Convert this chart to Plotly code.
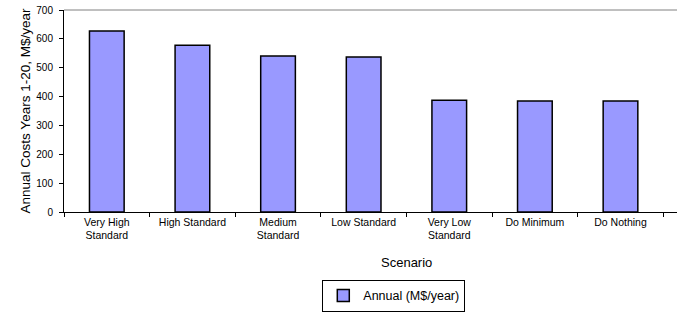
import plotly.graph_objects as go

categories = ["Very High<br>Standard", "High Standard", "Medium<br>Standard", "Low Standard",
              "Very Low<br>Standard", "Do Minimum", "Do Nothing"]
annual = [627, 578, 541, 537, 387, 385, 385]
series_name = "Annual (M$/year)"
y_ticks = [0, 100, 200, 300, 400, 500, 600, 700]

FONT = "Liberation Sans, Arial, sans-serif"

fig = go.Figure()
fig.add_trace(go.Bar(
    x=categories, y=annual, name=series_name,
    marker=dict(color="#9999FF", line=dict(color="black", width=1.5)),
))

fig.update_layout(
    width=677, height=313,
    margin=dict(l=64, r=0, t=10, b=101, autoexpand=False),
    paper_bgcolor="white", plot_bgcolor="white",
    font=dict(family=FONT, color="black"),
    bargap=0.595,
    showlegend=True,
    legend=dict(
        x=0.538, xanchor="center", y=-0.495, yanchor="bottom",
        orientation="h",
        bordercolor="black", borderwidth=1,
        font=dict(size=12.5, family=FONT),
        itemwidth=30, tracegroupgap=0,
    ),
    xaxis=dict(
        type="category", automargin=False,
        range=[-0.5, 6.66],
        showline=True, linecolor="black", linewidth=1,
        ticks="outside", tickson="boundaries", ticklen=4, tickcolor="black",
        tickfont=dict(size=10.5, family=FONT),
        showgrid=False,
    ),
    yaxis=dict(
        automargin=False,
        range=[0, 700], tickvals=y_ticks,
        showline=True, linecolor="black", linewidth=1,
        ticks="outside", ticklen=4, tickcolor="black",
        tickfont=dict(size=10, family=FONT),
        ticklabelstandoff=4, ticklabeloverflow="allow",
        showgrid=False, zeroline=False,
        title=dict(text="Annual Costs Years 1-20, M$/year", font=dict(size=13.5, family=FONT), standoff=2),
    ),
    shapes=[dict(type="line", xref="paper", yref="paper", x0=0, x1=1, y0=1, y1=1,
                 line=dict(color="#808080", width=1))],
    annotations=[dict(text="Scenario", xref="paper", yref="paper", x=0.558, y=-0.252,
                      xanchor="center", yanchor="middle", showarrow=False,
                      font=dict(size=13, family=FONT))],
)

# remove the page's default 8px body margin so the figure sits at the window origin
fig.write_html("out.html", config={"displayModeBar": False},
               post_script="document.body.style.margin='0px';")
